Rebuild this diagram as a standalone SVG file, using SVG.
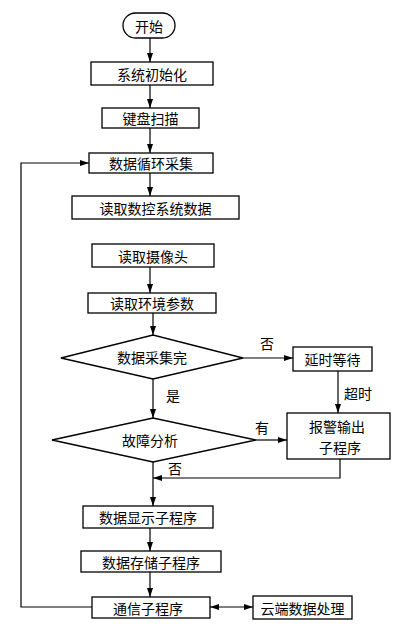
<svg xmlns="http://www.w3.org/2000/svg" width="418" height="633" viewBox="0 0 418 633">
<defs>
<marker id="ah" markerWidth="10" markerHeight="8" refX="9" refY="4" orient="auto" markerUnits="userSpaceOnUse">
<path d="M0,1 L9,4 L0,7 Z" fill="#000"/>
</marker>
<marker id="ahs" markerWidth="10" markerHeight="8" refX="1" refY="4" orient="auto" markerUnits="userSpaceOnUse">
<path d="M10,1 L1,4 L10,7 Z" fill="#000"/>
</marker>
</defs>
<style>
.b{fill:#fff;stroke:#000;stroke-width:1.3}
.t{font-family:"Noto Sans CJK SC","Liberation Sans",sans-serif;font-size:14px;fill:#000;text-anchor:middle;dominant-baseline:central}
.l{fill:none;stroke:#000;stroke-width:1.2}
</style>
<rect width="418" height="633" fill="#fff"/>
<g id="connectors">
<line class="l" x1="150" y1="38" x2="150" y2="62" marker-end="url(#ah)"/>
<line class="l" x1="150" y1="85" x2="150" y2="108" marker-end="url(#ah)"/>
<line class="l" x1="150" y1="128" x2="150" y2="153" marker-end="url(#ah)"/>
<line class="l" x1="150" y1="173" x2="150" y2="196" marker-end="url(#ah)"/>
<line class="l" x1="150" y1="267" x2="150" y2="293" marker-end="url(#ah)"/>
<line class="l" x1="153" y1="313" x2="153" y2="335" marker-end="url(#ah)"/>
<line class="l" x1="243" y1="358" x2="293" y2="358" marker-end="url(#ah)"/>
<line class="l" x1="338" y1="371" x2="338" y2="413" marker-end="url(#ah)"/>
<line class="l" x1="153" y1="379" x2="153" y2="418" marker-end="url(#ah)"/>
<line class="l" x1="256" y1="440" x2="287" y2="440" marker-end="url(#ah)"/>
<polyline class="l" points="340,459 340,478 153,478" marker-end="url(#ah)"/>
<line class="l" x1="153" y1="462" x2="153" y2="506" marker-end="url(#ah)"/>
<line class="l" x1="150" y1="528" x2="150" y2="551" marker-end="url(#ah)"/>
<line class="l" x1="150" y1="572" x2="150" y2="597" marker-end="url(#ah)"/>
<polyline class="l" points="92,607 21,607 21,163 89,163" marker-end="url(#ah)"/>
<line class="l" x1="210" y1="607" x2="253" y2="607" marker-start="url(#ahs)" marker-end="url(#ah)"/>
<text class="t" x="267" y="343">否</text>
<text class="t" x="358" y="393">超时</text>
<text class="t" x="173" y="395">是</text>
<text class="t" x="262" y="427">有</text>
<text class="t" x="175" y="468">否</text>
</g>
<g id="start"><rect class="b" x="123" y="13" width="52" height="25" rx="12.5"/><text class="t" x="149" y="25.5">开始</text></g>
<g id="init"><rect class="b" x="91" y="62" width="122" height="23"/><text class="t" x="152" y="73.5">系统初始化</text></g>
<g id="keyscan"><rect class="b" x="102" y="108" width="97" height="20"/><text class="t" x="150.5" y="118">键盘扫描</text></g>
<g id="loop"><rect class="b" x="89" y="153" width="124" height="20"/><text class="t" x="151" y="163">数据循环采集</text></g>
<g id="readnc"><rect class="b" x="72" y="196" width="167" height="23"/><text class="t" x="155.5" y="207.5">读取数控系统数据</text></g>
<g id="readcam"><rect class="b" x="92" y="244" width="122" height="23"/><text class="t" x="153" y="255.5">读取摄像头</text></g>
<g id="readenv"><rect class="b" x="88" y="293" width="128" height="20"/><text class="t" x="152" y="303">读取环境参数</text></g>
<g id="dec1"><polygon class="b" points="61,358 153,335 243,358 153,379"/><text class="t" x="152" y="357">数据采集完</text></g>
<g id="delay"><rect class="b" x="293" y="347" width="79" height="24"/><text class="t" x="332.5" y="359">延时等待</text></g>
<g id="dec2"><polygon class="b" points="52,440 153,418 256,440 153,462"/><text class="t" x="150" y="440">故障分析</text></g>
<g id="alarm"><rect class="b" x="287" y="413" width="103" height="46"/><text class="t" x="337" y="426">报警输出</text><text class="t" x="340" y="447">子程序</text></g>
<g id="display"><rect class="b" x="83" y="506" width="130" height="22"/><text class="t" x="148" y="517">数据显示子程序</text></g>
<g id="store"><rect class="b" x="81" y="551" width="140" height="21"/><text class="t" x="151" y="561.5">数据存储子程序</text></g>
<g id="comm"><rect class="b" x="92" y="597" width="118" height="21"/><text class="t" x="148" y="607.5">通信子程序</text></g>
<g id="cloud"><rect class="b" x="253" y="596" width="99" height="23"/><text class="t" x="302.5" y="607.5">云端数据处理</text></g>
</svg>
